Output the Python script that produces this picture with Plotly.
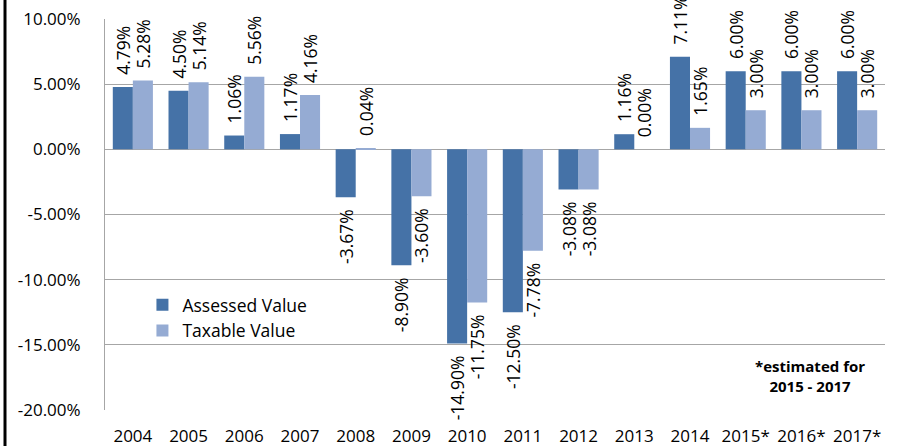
import plotly.graph_objects as go

years = ["2004", "2005", "2006", "2007", "2008", "2009", "2010", "2011", "2012",
         "2013", "2014", "2015*", "2016*", "2017*"]
assessed = [4.79, 4.50, 1.06, 1.17, -3.67, -8.90, -14.90, -12.50, -3.08, 1.16, 7.11, 6.00, 6.00, 6.00]
taxable = [5.28, 5.14, 5.56, 4.16, 0.04, -3.60, -11.75, -7.78, -3.08, 0.00, 1.65, 3.00, 3.00, 3.00]
y_ticks = [-20, -15, -10, -5, 0, 5, 10]

FONT = "'Open Sans', sans-serif"
PAD = "\u00a0\u00a0"


def labels(vals):
    # padding on the side that faces the bar end, to mimic the label offset
    return [(PAD + f"{v:.2f}%") if v >= 0 else (f"{v:.2f}%" + PAD) for v in vals]


fig = go.Figure()
fig.add_trace(go.Bar(
    x=years, y=assessed, name="Assessed Value",
    marker=dict(color="#4572A7", line=dict(width=0)),
    text=labels(assessed), textposition="outside", textangle=-90,
    textfont=dict(size=17.5, color="#000000", family=FONT),
    constraintext="none", cliponaxis=False,
))
fig.add_trace(go.Bar(
    x=years, y=taxable, name="Taxable Value",
    marker=dict(color="#95ABD3", line=dict(width=0)),
    text=labels(taxable), textposition="outside", textangle=-90,
    textfont=dict(size=17.5, color="#000000", family=FONT),
    constraintext="none", cliponaxis=False,
))

fig.update_layout(
    width=898, height=446,
    margin=dict(l=105, r=13, t=19, b=36, autoexpand=False),
    paper_bgcolor="white", plot_bgcolor="white",
    barmode="group", bargap=0.28, bargroupgap=0,
    font=dict(family=FONT, size=17, color="#000000"),
    showlegend=True,
    legend=dict(x=0.048, y=0.315, xanchor="left", yanchor="top",
                bgcolor="rgba(0,0,0,0)", font=dict(size=17.5),
                itemwidth=30, tracegroupgap=2),
    xaxis=dict(showgrid=False, showline=False, ticks="", ticklabelstandoff=14,
               tickfont=dict(size=17), automargin=False),
    yaxis=dict(range=[-20, 10], tickvals=y_ticks,
               ticktext=[f"{v:.2f}%" for v in y_ticks],
               showgrid=True, gridcolor="#A6A6A6", gridwidth=1,
               zeroline=False, showline=True, linecolor="#A6A6A6", linewidth=1,
               ticks="", ticklabelstandoff=20, tickfont=dict(size=17),
               automargin=False),
    annotations=[dict(
        text="<b>*estimated for<br>2015 - 2017</b>", x=0.904, y=0.087,
        xref="paper", yref="paper", xanchor="center", yanchor="middle",
        showarrow=False, align="center",
        font=dict(size=15, family=FONT, color="#000000"),
    )],
    shapes=[dict(type="line", xref="paper", yref="paper",
                 x0=-0.1282, x1=-0.1282, y0=-0.2, y1=1.1,
                 line=dict(color="#000000", width=3))],
)

fig.write_html(
    "out.html",
    config={"displayModeBar": False},
    post_script="document.body.style.margin='0';document.body.style.overflow='hidden';",
)
